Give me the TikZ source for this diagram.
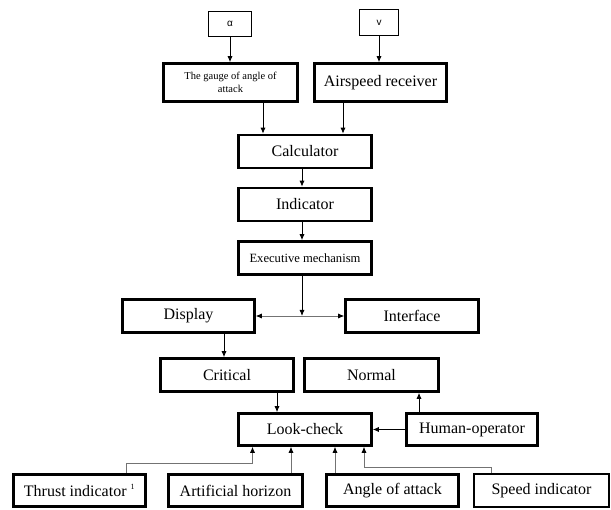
\documentclass[tikz,border=0pt]{standalone}
\usepackage{fontspec}
\setmainfont{Liberation Serif}
\newfontfamily\labelfont{Liberation Sans}
\usetikzlibrary{arrows.meta}

\begin{document}
\begin{tikzpicture}[x=1pt, y=-1pt,
    block/.style={draw, line width=2.6pt, minimum width=133pt, minimum height=33pt,
        inner sep=0pt, font=\fontsize{16}{18}\selectfont},
    input/.style={draw, line width=0.9pt, inner sep=0pt, font=\labelfont\fontsize{10}{12}\selectfont},
    arr/.style={-{Latex[length=6pt,width=5pt]}, line width=0.8pt},
    link/.style={-{Latex[length=6pt,width=5pt,color=black]}, line width=0.7pt, black!55}]
    \useasboundingbox (0,0) rectangle (611,510);

    \node [input, minimum width=43pt, minimum height=25pt] (alpha) at (230,24) {α};
    \node [input, minimum width=39pt, minimum height=26pt] (speed) at (379,22.5) {v};

    \node [block, minimum width=134pt, minimum height=38pt, align=center,
        font=\fontsize{10.5}{13}\selectfont] (gauge) at (230.5,82.5) {The gauge of angle of\\attack};
    \node [block, minimum width=132pt, minimum height=38pt] (airspeed) at (380.5,82.5) {Airspeed receiver};
    \node [block] (calc) at (305,151.5) {Calculator};
    \node [block] (indicator) at (305,204.5) {Indicator};
    \node [block, font=\fontsize{12.6}{15}\selectfont] (exec) at (305,258) {Executive mechanism};

    \node [block, minimum width=132pt] (display) at (188.5,316) {Display};
    \node [block] (interface) at (412,316) {Interface};
    \node [block] (critical) at (227,375) {Critical};
    \node [block, minimum width=134pt] (normal) at (371.5,375) {Normal};
    \node [block, minimum height=32pt] (look) at (305,429.5) {Look-check};
    \node [block, minimum width=131pt, minimum height=32pt] (human) at (472,429.5) {Human-operator};

    \node [block, minimum width=132pt, minimum height=32pt] (thrust) at (79.5,490.5) {Thrust indicator \textsuperscript{\fontsize{8}{9}\selectfont 1}};
    \node [block, minimum width=134pt, minimum height=32pt] (horizon) at (235.5,490.5) {Artificial horizon};
    \node [block, minimum width=132pt, minimum height=32pt] (attack) at (392.5,490.5) {Angle of attack};
    \node [block, line width=1.8pt, minimum width=135pt, minimum height=33pt] (speedind) at (541.5,490.5) {Speed indicator};

    \coordinate (junction) at (302,316);

    \draw [arr] (alpha.south) -- (gauge.north -| alpha.south);
    \draw [arr] (speed.south) -- (airspeed.north -| speed.south);
    \draw [arr] ([xshift=32.5pt]gauge.south) -- ([xshift=32.5pt]gauge.south |- calc.north);
    \draw [arr] ([xshift=-37.5pt]airspeed.south) -- ([xshift=-37.5pt]airspeed.south |- calc.north);
    \draw [arr] ([xshift=-3pt]calc.south) -- ([xshift=-3pt]indicator.north);
    \draw [arr] ([xshift=-3pt]indicator.south) -- ([xshift=-3pt]exec.north);
    \draw [arr] ([xshift=-3pt]exec.south) -- (junction);
    \draw [link] (junction) -- (display.east);
    \draw [link] (junction) -- (interface.west);

    \draw [arr] ([xshift=35.5pt]display.south) -- ([xshift=35.5pt]display.south |- critical.north);
    \draw [arr] ([xshift=50pt]critical.south) -- ([xshift=50pt]critical.south |- look.north);
    \draw [arr] (human.west) -- (look.east);
    \draw [arr] ([xshift=-53pt]human.north) -- ([xshift=-53pt]human.north |- normal.south);

    \draw [link] ([xshift=46.5pt]thrust.north) -- ++(0,-10) -| ([xshift=-52.5pt]look.south);
    \draw [link] ([xshift=55.5pt]horizon.north) -- ([xshift=55.5pt]horizon.north |- look.south);
    \draw [link] ([xshift=-57.5pt]attack.north) -- ([xshift=-57.5pt]attack.north |- look.south);
    \draw [link] ([xshift=-50.5pt]speedind.north) -- ++(0,-6) -| ([xshift=59pt]look.south);
\end{tikzpicture}
\end{document}
